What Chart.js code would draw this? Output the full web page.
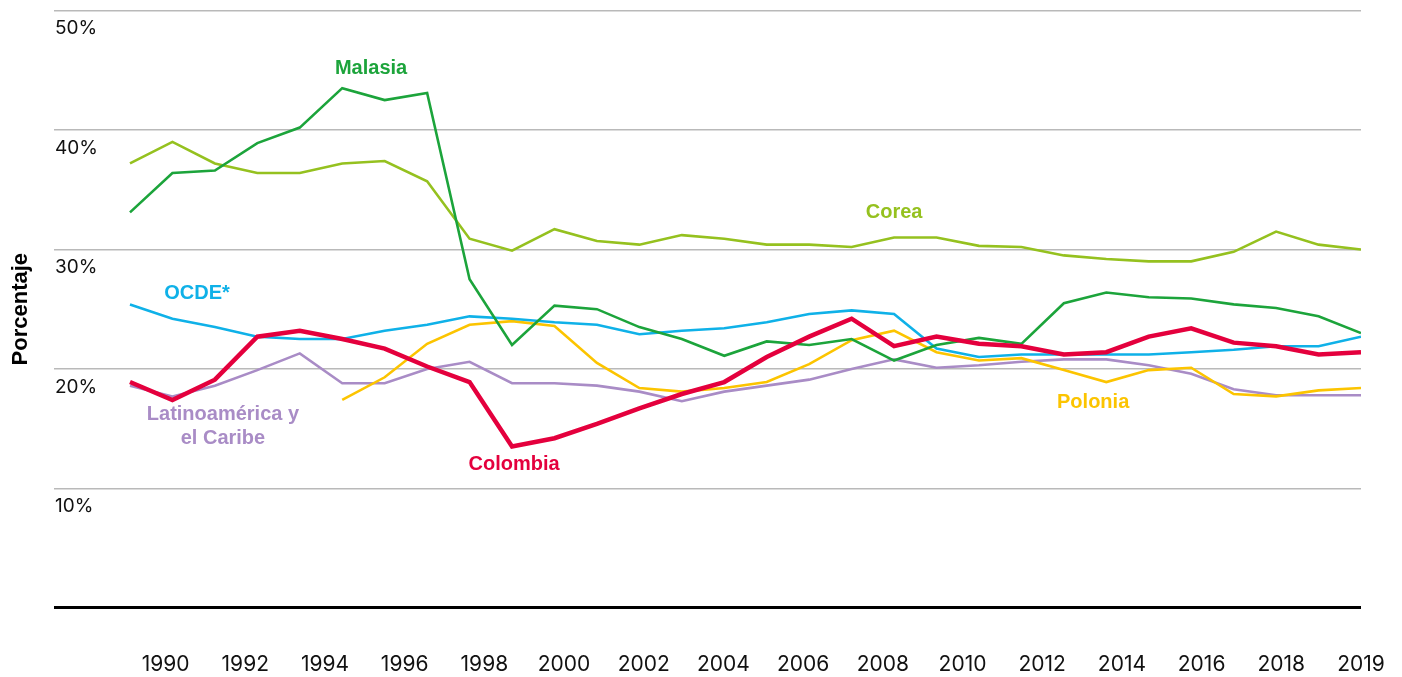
<!DOCTYPE html>
<html lang="es">
<head>
  <meta charset="UTF-8">
  <meta name="viewport" content="width=device-width, initial-scale=1.0">
  <title>Porcentaje</title>
  <style>
    html, body { margin: 0; padding: 0; background: #fff; overflow: hidden; }
    canvas { display: block; }
  </style>
</head>
<body>
  <canvas id="lineChart" width="1402" height="677"></canvas>

  <script src="https://cdn.jsdelivr.net/npm/chart.js"></script>
  <script>
    const years = [1990, 1991, 1992, 1993, 1994, 1995, 1996, 1997, 1998, 1999,
                   2000, 2001, 2002, 2003, 2004, 2005, 2006, 2007, 2008, 2009,
                   2010, 2011, 2012, 2013, 2014, 2015, 2016, 2017, 2018, 2019]
    const xTickLabels = ['1990', '1992', '1994', '1996', '1998', '2000', '2002', '2004',
                         '2006', '2008', '2010', '2012', '2014', '2016', '2018', '2019']

    const colombia = [18.9, 17.4, 19.1, 22.7, 23.2, 22.5, 21.7, 20.2, 18.9, 13.5,
                      14.2, 15.4, 16.7, 17.9, 18.9, 21.0, 22.7, 24.2, 21.9, 22.7,
                      22.1, 21.9, 21.2, 21.4, 22.7, 23.4, 22.2, 21.9, 21.2, 21.4]
    const malasia = [33.1, 36.4, 36.6, 38.9, 40.2, 43.5, 42.5, 43.1, 27.5, 22.0,
                     25.3, 25.0, 23.5, 22.5, 21.1, 22.3, 22.0, 22.5, 20.7, 22.0,
                     22.6, 22.1, 25.5, 26.4, 26.0, 25.9, 25.4, 25.1, 24.4, 23.0]
    const corea = [37.2, 39.0, 37.2, 36.4, 36.4, 37.2, 37.4, 35.7, 30.9, 29.9,
                   31.7, 30.7, 30.4, 31.2, 30.9, 30.4, 30.4, 30.2, 31.0, 31.0,
                   30.3, 30.2, 29.5, 29.2, 29.0, 29.0, 29.8, 31.5, 30.4, 30.0]
    const ocde = [25.4, 24.2, 23.5, 22.7, 22.5, 22.5, 23.2, 23.7, 24.4, 24.2,
                  23.9, 23.7, 22.9, 23.2, 23.4, 23.9, 24.6, 24.9, 24.6, 21.7,
                  21.0, 21.2, 21.2, 21.2, 21.2, 21.4, 21.6, 21.9, 21.9, 22.7]
    const polonia = [null, null, null, null, null, 17.4, 19.3, 22.1, 23.7, 24.0,
                     23.6, 20.5, 18.4, 18.1, 18.4, 18.9, 20.4, 22.4, 23.2, 21.4,
                     20.7, 20.9, 19.9, 18.9, 19.9, 20.1, 17.9, 17.7, 18.2, 18.4]
    const latam = [18.6, 17.7, 18.6, 19.9, 21.3, 18.8, 18.8, 20.0, 20.6, 18.8,
                   18.8, 18.6, 18.1, 17.3, 18.1, 18.6, 19.1, 20.0, 20.8, 20.1,
                   20.3, 20.6, 20.8, 20.8, 20.3, 19.6, 18.3, 17.8, 17.8, 17.8]

    const colors = {
      colombia: '#e4003d',
      malasia: '#1ca43b',
      corea: '#95c11f',
      ocde: '#0fb1e8',
      polonia: '#fcc400',
      latam: '#a98cc6'
    }

    // series names written on the chart: [text lines, year, value, color]
    const seriesLabels = [
      [['Malasia'], 1995.68, 45.15, colors.malasia],
      [['Corea'], 2008.0, 33.1, colors.corea],
      [['OCDE*'], 1991.58, 26.35, colors.ocde],
      [['Latinoamérica y', 'el Caribe'], 1992.19, 15.2, colors.latam],
      [['Colombia'], 1999.05, 12.04, colors.colombia],
      [['Polonia'], 2012.69, 17.22, colors.polonia]
    ]

    const tickFont = "'Inter', 'Liberation Sans', sans-serif"
    const labelFont = "'Liberation Sans', Arial, sans-serif"

    function toPoints(values) {
      return years.map((y, i) => ({ x: y, y: values[i] }))
    }

    function line(label, values, color, width) {
      return {
        label: label,
        data: toPoints(values),
        borderColor: color,
        backgroundColor: color,
        borderWidth: width,
        pointRadius: 0,
        tension: 0,
        fill: false,
        spanGaps: false
      }
    }

    const seriesLabelPlugin = {
      id: 'seriesLabels',
      afterDatasetsDraw(chart) {
        const ctx = chart.ctx
        const xs = chart.scales.x
        const ys = chart.scales.y
        ctx.save()
        ctx.font = 'bold 20px ' + labelFont
        ctx.textAlign = 'center'
        ctx.textBaseline = 'middle'
        seriesLabels.forEach(([lines, year, value, color]) => {
          const px = xs.getPixelForValue(year)
          const py = ys.getPixelForValue(value)
          ctx.fillStyle = color
          const lh = 24
          const top = py - (lines.length - 1) * lh / 2
          lines.forEach((t, i) => ctx.fillText(t, px, top + i * lh))
        })
        ctx.restore()
      }
    }

    const config = {
      type: 'line',
      data: {
        datasets: [
          line('Colombia', colombia, colors.colombia, 4.5),
          line('Malasia', malasia, colors.malasia, 2.6),
          line('Corea', corea, colors.corea, 2.6),
          line('OCDE*', ocde, colors.ocde, 2.6),
          line('Polonia', polonia, colors.polonia, 2.6),
          line('Latinoamérica y el Caribe', latam, colors.latam, 2.6)
        ]
      },
      options: {
        responsive: false,
        devicePixelRatio: 1,
        animation: false,
        layout: { padding: { left: 0, right: 41, top: 10, bottom: 0 } },
        plugins: {
          legend: { display: false },
          tooltip: { enabled: false }
        },
        scales: {
          x: {
            type: 'linear',
            display: false,
            min: 1988.21,
            max: 2019
          },
          xLabels: {
            type: 'linear',
            position: 'bottom',
            min: -1.4,
            max: 15,
            // grid hidden, but tickLength still sets the gap above the labels
            grid: { display: false, drawTicks: true, tickLength: 45 },
            border: { display: false },
            afterBuildTicks: axis => {
              axis.ticks = xTickLabels.map((_, i) => ({ value: i }))
            },
            ticks: {
              autoSkip: false,
              maxRotation: 0,
              padding: 0,
              color: '#111',
              font: { family: tickFont, size: 21, lineHeight: 1.15 },
              callback: v => xTickLabels[v]
            }
          },
          y: {
            min: 0,
            max: 50,
            border: { display: false },
            grid: {
              drawTicks: false,
              color: c => c.tick.value === 0 ? '#000' : '#b9b9b9',
              lineWidth: c => c.tick.value === 0 ? 3 : 1.5
            },
            ticks: {
              stepSize: 10,
              mirror: true,
              padding: 1,
              labelOffset: 18,
              color: '#111',
              font: { family: tickFont, size: 19, lineHeight: 1 },
              callback: v => v === 0 ? '' : v + '%'
            },
            title: {
              display: true,
              text: 'Porcentaje',
              color: '#000',
              font: { family: labelFont, size: 22, weight: 'bold', lineHeight: 1 },
              padding: { top: 10, bottom: 20 }
            }
          }
        }
      },
      plugins: [seriesLabelPlugin]
    }

    const chart = new Chart(document.getElementById('lineChart'), config)
  </script>
</body>
</html>
